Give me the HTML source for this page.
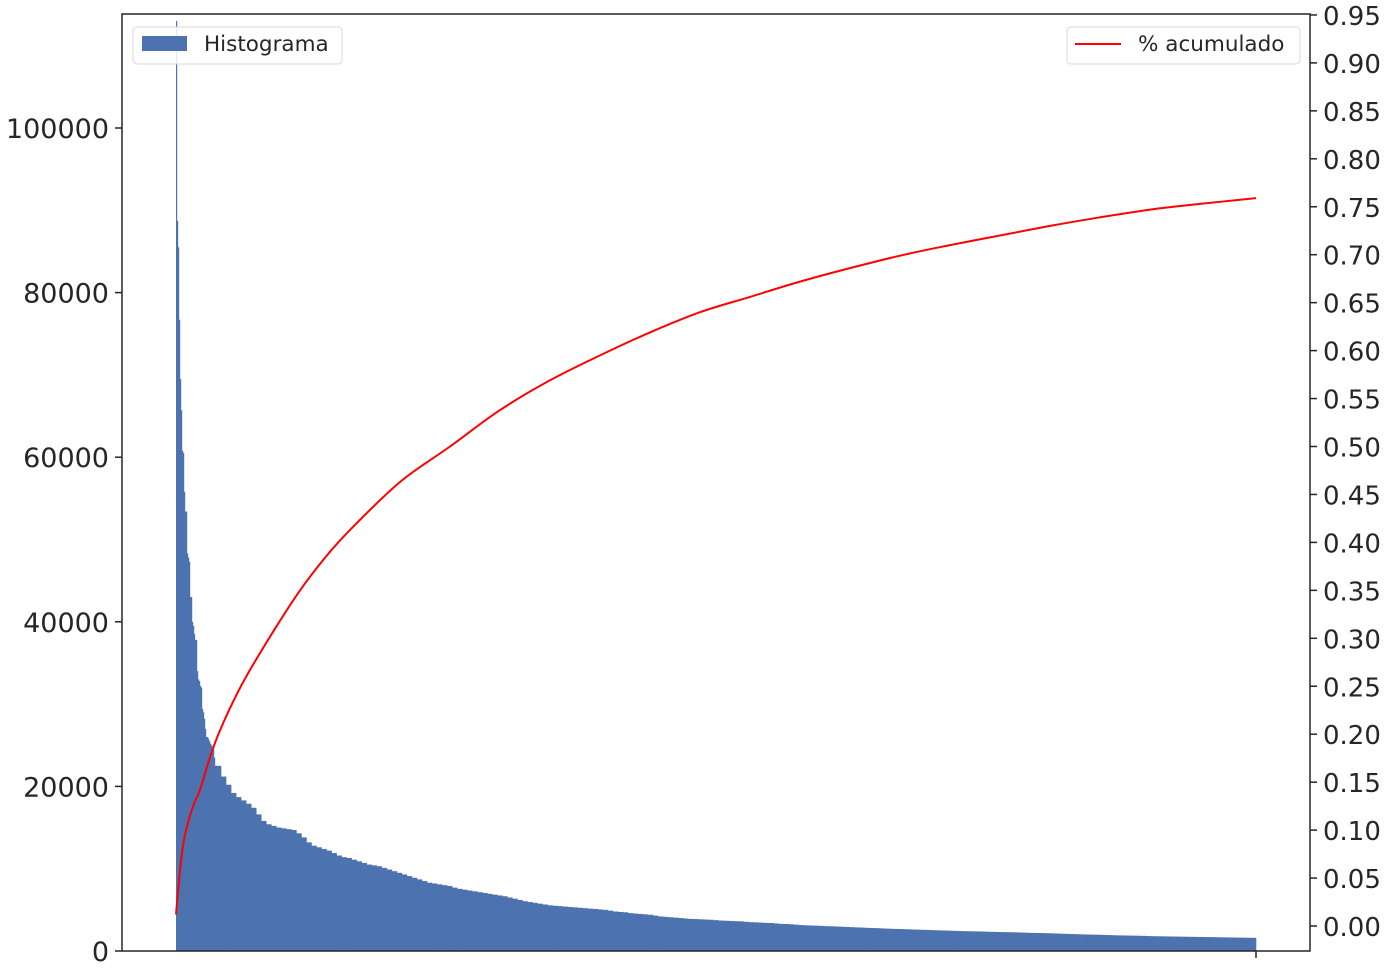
<!DOCTYPE html>
<html><head><meta charset="utf-8"><style>
body{margin:0;background:#fff;}
svg text{font-family:"DejaVu Sans","Liberation Sans",sans-serif;fill:#262626;}
</style></head><body>
<svg id="chart" width="1386" height="967"></svg>
<script>
const headValues=[113000,88700,85500,76700,69500,65700,60800,60500,55800,53400,53400,48300,47800,47300,43000,43000,40000,39500,38500,37800,37800,34000,33000,32800,32200,32000,29400,29000,28200,27000,26000,26000,25800,25500,25200,25000,24800,24500,23500,22500];
const tailValues=[22500,21200,20200,19200,18700,18300,17900,17400,16600,15800,15400,15200,15000,14900,14800,14700,14300,13800,13200,12800,12600,12400,12200,11900,11600,11400,11300,11100,10900,10700,10500,10400,10300,10100,9900,9700,9500,9300,9100,8900,8700,8500,8300,8200,8100,8000,7900,7700,7550,7450,7350,
7250,7150,7050,6950,6850,6750,6650,6500,6350,6200,6050,5950,5850,5750,5650,5550,5500,5450,5400,5350,5300,5250,5200,5150,5100,5050,5000,4900,4800,4750,4700,4600,4550,4500,4450,4400,4300,4200,4150,4100,4050,4000,3950,3900,3880,3850,3820,3800,3750,3700,3680,3650,3620,3600,3550,3500,3480,3450,3420,3400,3350,3300,3280,3250,3200,3150,3120,3100,3080,3050,3020,3000,2980,2950,2920,2900,2870,2850,2820,2800,2780,2750,2720,2700,2680,2660,2640,2620,2600,2580,2560,2540,2520,2500,2480,2460,2440,2420,2400,2390,2380,2370,2350,2330,2310,2300,2290,2280,2260,2240,2220,2200,2190,2180,2160,2140,2120,2100,2080,2060,2040,2020,2000,1990,1980,1960,1940,1920,1900,1890,1880,1870,1860,1840,1820,1800,1790,1780,1770,1760,1750,1740,1730,1720,1710,1700,1690,1680,1670,1660,1650,1640,1630,1620,1610,1600];
const cumIndex=[0,0.8,1.6,2.8,3.8,4.8,6.8,8.8,11.8,14.8,19.8,24.8,29.8,34.8,44.8,54.8,64.8,74.8,84.8,94.8,104.8,114.8,124.8,134.8,144.8,154.8,164.8,174.8,184.8,194.8,204.8,216];
const cumValues=[0.012,0.058,0.09,0.115,0.13,0.142,0.176,0.204,0.238,0.267,0.31,0.35,0.384,0.413,0.463,0.50,0.538,0.569,0.595,0.619,0.64,0.656,0.672,0.686,0.699,0.71,0.72,0.73,0.739,0.747,0.753,0.759];
const leftTicks=[0,20000,40000,60000,80000,100000];
const rightTicks=[0,0.05,0.1,0.15,0.2,0.25,0.3,0.35,0.4,0.45,0.5,0.55,0.6,0.65,0.7,0.75,0.8,0.85,0.9,0.95];

const svg=document.getElementById('chart');
const NS='http://www.w3.org/2000/svg';
const L=122,R=1310,T=14,B=951,X0=176,X1=1256;
const headW=1, headEnd=X0+headValues.length*headW;
const tailW=(X1-headEnd)/tailValues.length;
const xs=i=>X0+(X1-X0)*i/216;
const yL=v=>B-v*(164.6/20000);
const yR=v=>926-v*959;
function mk(tag,attrs,parent){const e=document.createElementNS(NS,tag);for(const k in attrs)e.setAttribute(k,attrs[k]);(parent||svg).appendChild(e);return e;}

const gb=mk('g',{});


headValues.forEach((v,i)=>{
  const r=mk('rect',{x:X0+i*headW,y:yL(v),width:headW+0.2,height:B-yL(v),fill:'#4c72b0'},gb);
  
  
});
tailValues.forEach((v,i)=>{
  const r=mk('rect',{x:headEnd+i*tailW,y:yL(v),width:tailW+0.3,height:B-yL(v),fill:'#4c72b0'},gb);
  
  
});
// smooth path (Catmull-Rom) through points
const P=cumIndex.map((c,i)=>[xs(c),yR(cumValues[i])]);
let d='M'+P[0][0].toFixed(1)+','+P[0][1].toFixed(1);
for(let i=0;i<P.length-1;i++){
  const p0=P[Math.max(0,i-1)],p1=P[i],p2=P[i+1],p3=P[Math.min(P.length-1,i+2)];
  const c1=[p1[0]+(p2[0]-p0[0])/6,p1[1]+(p2[1]-p0[1])/6];
  const c2=[p2[0]-(p3[0]-p1[0])/6,p2[1]-(p3[1]-p1[1])/6];
  d+=' C'+c1.map(n=>n.toFixed(1)).join(',')+' '+c2.map(n=>n.toFixed(1)).join(',')+' '+p2.map(n=>n.toFixed(1)).join(',');
}
const line=mk('path',{d:d,fill:'none',stroke:'#ff0000','stroke-width':2,'stroke-linejoin':'round'});



const frame=mk('rect',{x:L,y:T,width:R-L,height:B-T,fill:'none',stroke:'#262626','stroke-width':1.5});



leftTicks.forEach(v=>{
  const y=yL(v);
  mk('line',{x1:L-7,x2:L,y1:y,y2:y,stroke:'#262626','stroke-width':1.5});
  const t=mk('text',{x:L-13,y:y+10,'text-anchor':'end','font-size':27});
  t.textContent=v;
  
  
});
rightTicks.forEach(v=>{
  const y=yR(v);
  mk('line',{x1:R,x2:R+7,y1:y,y2:y,stroke:'#262626','stroke-width':1.5});
  const t=mk('text',{x:R+13,y:y+10,'font-size':26});
  t.textContent=v.toFixed(2);
  
  
});
mk('line',{x1:X1,x2:X1,y1:B,y2:B+7,stroke:'#262626','stroke-width':1.5});

const lg1=mk('g',{});


mk('rect',{x:133,y:27,width:209,height:37,rx:4,fill:'#fff','fill-opacity':0.85,stroke:'#d8d8d8'},lg1);
mk('rect',{x:142,y:36,width:45,height:15,fill:'#4c72b0'},lg1);
const t1=mk('text',{x:204,y:51,'font-size':21.5},lg1);t1.textContent='Histograma';
const lg2=mk('g',{});


mk('rect',{x:1067,y:27,width:233,height:37,rx:4,fill:'#fff','fill-opacity':0.85,stroke:'#d8d8d8'},lg2);
mk('line',{x1:1075,x2:1121,y1:44,y2:44,stroke:'#ff0000','stroke-width':2},lg2);
const t2=mk('text',{x:1138,y:51,'font-size':21.5},lg2);t2.textContent='% acumulado';
</script>
</body></html>
